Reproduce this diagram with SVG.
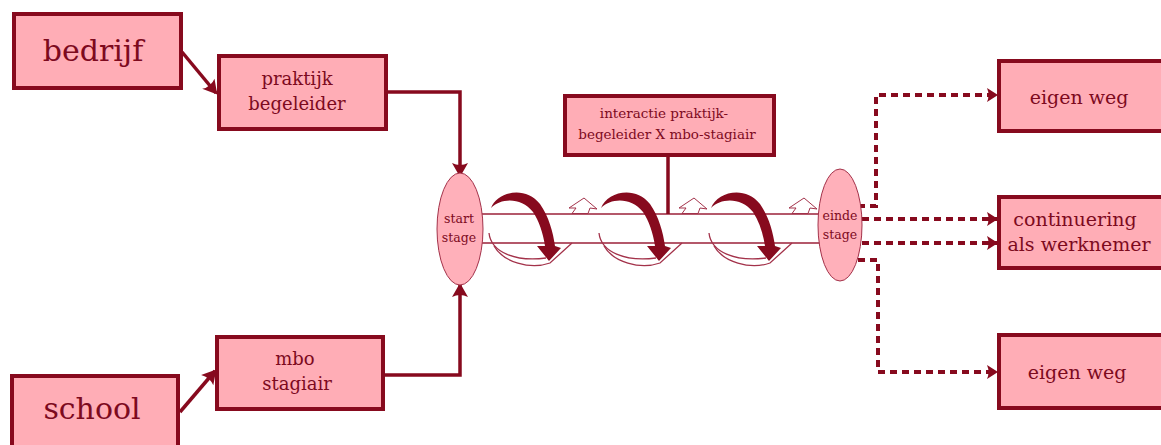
<svg xmlns="http://www.w3.org/2000/svg" width="1161" height="445" viewBox="0 0 1161 445">
  <style>
    .box { fill: #ffadb6; stroke: #870a1e; stroke-width: 4; }
    .stage { fill: #ffb0ba; stroke: #a3324a; stroke-width: 1; }
    .lbl { fill: #7d0a1e; text-anchor: middle; font-family: "DejaVu Serif", "Liberation Serif", serif; }
    .solid { fill: none; stroke: #870a1e; stroke-width: 3.5; }
    .dash { fill: none; stroke: #870a1e; stroke-width: 4; stroke-dasharray: 7 5; }
    .thin { fill: none; stroke: #a3324a; stroke-width: 1.3; }
    .tube { stroke: #9b2038; stroke-width: 1.6; }
    .hollow { fill: #ffffff; stroke: #a3324a; stroke-width: 1; stroke-linejoin: miter; }
    .twistHead { fill: #870a1e; }
  </style>
  <defs>
    <marker id="head" markerUnits="userSpaceOnUse" markerWidth="18" markerHeight="18" refX="13" refY="9" orient="auto">
      <path d="M1,1 L15,9 L1,17 Q5,9 1,1 z" fill="#870a1e"/>
    </marker>
    <marker id="headSmall" markerUnits="userSpaceOnUse" markerWidth="14" markerHeight="16" refX="11" refY="8" orient="auto">
      <path d="M1,1 L12,8 L1,15 Q4,8 1,1 z" fill="#870a1e"/>
    </marker>
    <!-- one twist of the helix: curved thick arrow, thin under-loop and hollow up-arrow -->
    <g id="twist">
      <path class="thin" d="M489,233 C491,252 515,262 546,258"/>
      <path class="thin" d="M494,246 C503,262 530,270 550,263 L572,243"/>
      <path class="twistHead" d="M491,208 C497,192 525,185 540,204 C549,217 553,232 555,246 L561,248 L549,261 L537,246 L545,246 C543,233 539,221 533,212 C521,197 501,198 491,208 Z"/>
      <polygon class="hollow" points="572,213.5 576,208 569,208 584,198 597,209 590,208 588,213.5"/>
    </g>
  </defs>

  <!-- tube between start and end of the internship -->
  <g id="tube">
    <line class="tube" x1="480" y1="214" x2="820" y2="214"/>
    <line class="tube" x1="480" y1="243" x2="820" y2="243"/>
    <use href="#twist"/>
    <use href="#twist" x="110"/>
    <use href="#twist" x="220"/>
  </g>

  <!-- connectors -->
  <g id="connectors">
    <line class="solid" x1="182" y1="52" x2="216" y2="93" marker-end="url(#head)"/>
    <line class="solid" x1="180" y1="412" x2="215" y2="371" marker-end="url(#head)"/>
    <path class="solid" d="M386,92 H460 V175" marker-end="url(#head)"/>
    <path class="solid" d="M383,375 H460 V285" marker-end="url(#head)"/>
    <line class="solid" x1="668" y1="157" x2="668" y2="214" stroke-width="3"/>
    <path class="dash" d="M858,206 H876 V95 H997" marker-end="url(#headSmall)"/>
    <path class="dash" d="M862,219 H997" marker-end="url(#headSmall)"/>
    <path class="dash" d="M862,243 H997" marker-end="url(#headSmall)"/>
    <path class="dash" d="M858,260 H878 V372 H997" marker-end="url(#headSmall)"/>
  </g>

  <g id="bedrijf">
    <rect class="box" x="14" y="14" width="167" height="74"/>
    <text class="lbl" x="93" y="61" font-size="30">bedrijf</text>
  </g>

  <g id="school">
    <rect class="box" x="12" y="376" width="166" height="80"/>
    <text class="lbl" x="92" y="419" font-size="30">school</text>
  </g>

  <g id="praktijkbegeleider">
    <rect class="box" x="219" y="56" width="167" height="73"/>
    <text class="lbl" x="297" y="85" font-size="18">praktijk</text>
    <text class="lbl" x="297" y="110" font-size="18">begeleider</text>
  </g>

  <g id="mbostagiair">
    <rect class="box" x="217" y="337" width="166" height="72"/>
    <text class="lbl" x="295" y="365" font-size="18">mbo</text>
    <text class="lbl" x="297" y="390" font-size="18">stagiair</text>
  </g>

  <g id="interactie">
    <rect class="box" x="565" y="96" width="209" height="59"/>
    <text class="lbl" x="664" y="118" font-size="13.5">interactie praktijk-</text>
    <text class="lbl" x="667" y="139" font-size="13.5">begeleider X mbo-stagiair</text>
  </g>

  <g id="startstage">
    <ellipse class="stage" cx="460" cy="229" rx="23" ry="56"/>
    <text class="lbl" x="459" y="223" font-size="12.5">start</text>
    <text class="lbl" x="459" y="242" font-size="12.5">stage</text>
  </g>

  <g id="eindestage">
    <ellipse class="stage" cx="840" cy="225" rx="22" ry="56"/>
    <text class="lbl" x="840" y="220" font-size="12.5">einde</text>
    <text class="lbl" x="840" y="239" font-size="12.5">stage</text>
  </g>

  <g id="eigenweg1">
    <rect class="box" x="999" y="61" width="180" height="70"/>
    <text class="lbl" x="1079" y="104" font-size="19">eigen weg</text>
  </g>

  <g id="continuering">
    <rect class="box" x="999" y="197" width="180" height="71"/>
    <text class="lbl" x="1075" y="226" font-size="19">continuering</text>
    <text class="lbl" x="1079" y="251" font-size="19">als werknemer</text>
  </g>

  <g id="eigenweg2">
    <rect class="box" x="999" y="335" width="180" height="73"/>
    <text class="lbl" x="1077" y="379" font-size="19">eigen weg</text>
  </g>
</svg>
